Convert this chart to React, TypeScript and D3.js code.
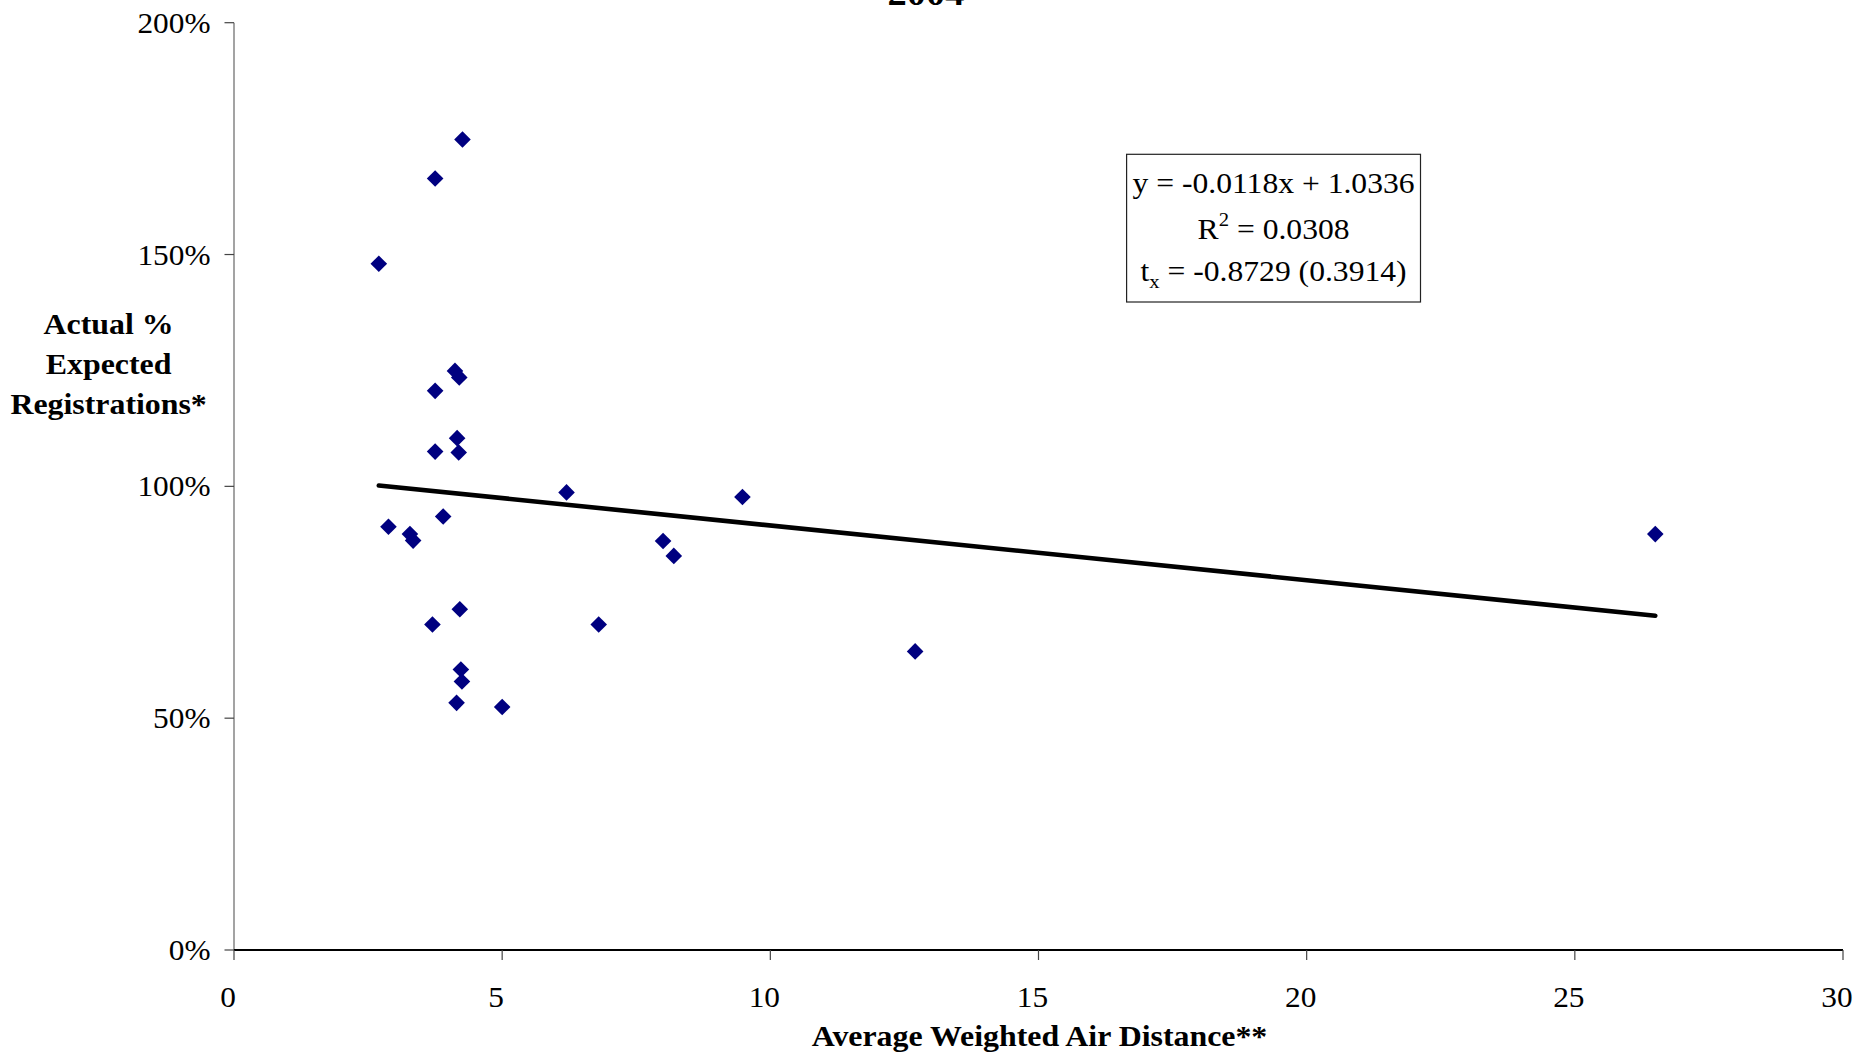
import React from "react";
import * as d3 from "d3";

const xValues = [4.26, 3.75, 2.70, 4.12, 4.20, 3.75, 4.16, 3.75, 4.19, 3.90, 2.88, 3.28, 3.34, 4.21, 3.70, 4.23, 4.25, 4.15, 5.00, 6.20, 8.00, 8.20, 6.80, 12.70, 9.48, 26.50];
const yValues = [1.748, 1.664, 1.480, 1.249, 1.235, 1.206, 1.104, 1.075, 1.073, 0.935, 0.913, 0.897, 0.883, 0.735, 0.702, 0.605, 0.579, 0.533, 0.524, 0.987, 0.882, 0.850, 0.702, 0.644, 0.977, 0.897];
const xTicks = [0, 5, 10, 15, 20, 25, 30];
const yTicks = [0, 0.5, 1, 1.5, 2];
const trendSlope = -0.0118;
const trendIntercept = 1.0336;
const eqLine1 = "y = -0.0118x + 1.0336";
const eqR2 = "0.0308";
const eqT = "-0.8729 (0.3914)";
const titleText = "2004";
const xTitle = "Average Weighted Air Distance**";
const yTitleLines = ["Actual %", "Expected", "Registrations*"];

const W = 1860;
const H = 1056;
const SERIF = "'Liberation Serif', 'Times New Roman', Times, serif";

const x = d3.scaleLinear().domain([0, 30]).range([234, 1843]);
const y = d3.scaleLinear().domain([0, 2]).range([950, 22.7]);

function SText(props: {
  x: number; y: number; sx?: number; anchor?: string; size: number; bold?: boolean; children: any;
}) {
  const sx = props.sx ?? 1.1;
  return (
    <text
      transform={`translate(${props.x},${props.y}) scale(${sx},1)`}
      textAnchor={props.anchor ?? "middle"}
      fontFamily={SERIF}
      fontSize={props.size}
      fontWeight={props.bold ? "bold" : "normal"}
      fill="#000"
    >
      {props.children}
    </text>
  );
}

export default function App() {
  const pts = xValues.map((v, i) => ({ x: v, y: yValues[i] }));
  const xMin = d3.min(xValues) as number;
  const xMax = d3.max(xValues) as number;
  const trend = d3.line<number>()
    .x((d) => x(d))
    .y((d) => y(trendIntercept + trendSlope * d))([xMin, xMax]);
  const fmtPct = d3.format(".0%");
  const r = 8.3;

  const boxX0 = 1126.6, boxY0 = 154.3, boxX1 = 1420.5, boxY1 = 302;
  const boxCx = (boxX0 + boxX1) / 2;

  return (
    <svg width={W} height={H} style={{ position: "absolute", left: 0, top: 0, background: "#fff" }}>
      <rect x={0} y={0} width={W} height={H} fill="#fff" />
      {/* title (cut at the top edge, as in the reference) */}
      <SText x={926} y={5} size={35} bold sx={1.1}>{titleText}</SText>

      {/* y axis */}
      <line x1={x(0)} x2={x(0)} y1={y(2)} y2={y(0)} stroke="#666" strokeWidth={1.2} />
      {yTicks.map((t) => (
        <g key={"yt" + t}>
          <line x1={x(0) - 9.5} x2={x(0)} y1={y(t)} y2={y(t)} stroke="#444" strokeWidth={1.2} />
          <SText x={210.5} y={y(t) + 10} size={29} anchor="end" sx={1.08}>{fmtPct(t)}</SText>
        </g>
      ))}

      {/* x axis */}
      <line x1={x(0)} x2={x(30)} y1={y(0)} y2={y(0)} stroke="#000" strokeWidth={2} />
      {xTicks.map((t) => (
        <g key={"xt" + t}>
          <line x1={x(t)} x2={x(t)} y1={y(0)} y2={y(0) + 10} stroke="#444" strokeWidth={1.2} />
          <SText x={x(t) - 6} y={1007} size={29} sx={1.08}>{String(t)}</SText>
        </g>
      ))}

      {/* axis titles */}
      <SText x={1039.5} y={1046} size={29.5} bold sx={1.08}>{xTitle}</SText>
      {yTitleLines.map((l, i) => (
        <SText key={l} x={108.6} y={334 + i * 40} size={29.5} bold sx={1.08}>{l}</SText>
      ))}

      {/* trend line */}
      <path d={trend ?? ""} stroke="#000" strokeWidth={4.6} fill="none" strokeLinecap="round" />

      {/* points */}
      {pts.map((p, i) => {
        const cx = x(p.x), cy = y(p.y);
        return (
          <path
            key={i}
            d={`M${cx},${cy - r}L${cx + r},${cy}L${cx},${cy + r}L${cx - r},${cy}Z`}
            fill="#000080"
          />
        );
      })}

      {/* equation box */}
      <rect x={boxX0} y={boxY0} width={boxX1 - boxX0} height={boxY1 - boxY0} fill="#fff" stroke="#222" strokeWidth={1.2} />
      <SText x={boxCx} y={193} size={29} sx={1.09}>{eqLine1}</SText>
      <SText x={boxCx} y={239} size={29} sx={1.09}>
        <tspan>R</tspan>
        <tspan fontSize={19} dy={-13}>2</tspan>
        <tspan dy={13}>{" = " + eqR2}</tspan>
      </SText>
      <SText x={boxCx} y={281} size={29} sx={1.09}>
        <tspan>t</tspan>
        <tspan fontSize={19} dy={7}>x</tspan>
        <tspan dy={-7}>{" = " + eqT}</tspan>
      </SText>
    </svg>
  );
}
